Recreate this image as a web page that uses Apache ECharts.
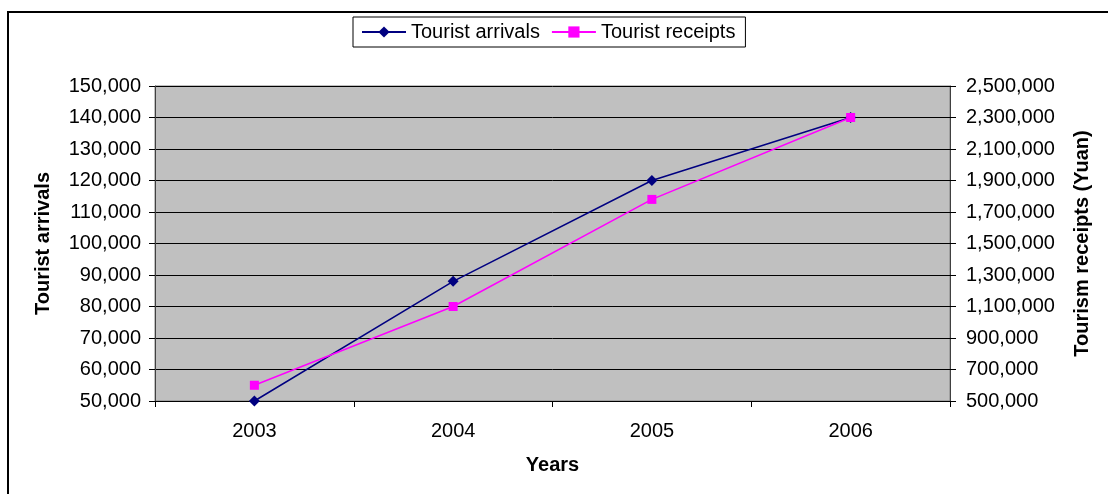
<!DOCTYPE html>
<html>
<head>
<meta charset="utf-8">
<script src="https://cdn.jsdelivr.net/npm/echarts@6/dist/echarts.min.js"></script>
<style>
html,body{margin:0;padding:0;background:#fff;}
#chart{width:1108px;height:494px;}
</style>
</head>
<body>
<div id="chart"></div>
<script>
const years = ['2003', '2004', '2005', '2006'];
const touristArrivals = [50000, 88000, 120000, 140000];
const touristReceipts = [600000, 1100000, 1780000, 2300000];
const leftAxisRange = [50000, 150000, 10000];
const rightAxisRange = [500000, 2500000];

const font = '"Liberation Sans", Arial, sans-serif';
const fmt = v => v.toLocaleString('en-US');

const chart = echarts.init(document.getElementById('chart'), null, {renderer: 'canvas'});
chart.setOption({
  animation: false,
  backgroundColor: '#ffffff',
  textStyle: {fontFamily: font},
  graphic: [{
    type: 'polyline',
    shape: {points: [[8, 500], [8, 12], [1110, 12]]},
    style: {stroke: '#000', lineWidth: 2, fill: null}
  }],
  legend: {
    left: 353, top: 17,
    padding: [5, 10, 5, 8],
    itemGap: 11,
    itemWidth: 44, itemHeight: 14,
    borderColor: '#000', borderWidth: 1,
    textStyle: {fontSize: 20, color: '#000', fontFamily: font},
    data: ['Tourist arrivals', 'Tourist receipts']
  },
  grid: {
    left: 155, right: 158, top: 86, bottom: 93,
    show: true, backgroundColor: '#C0C0C0', borderColor: '#808080', borderWidth: 1
  },
  xAxis: {
    type: 'category',
    data: years,
    boundaryGap: true,
    name: 'Years',
    nameLocation: 'middle',
    nameGap: 54,
    nameTextStyle: {fontSize: 20, fontWeight: 'bold', color: '#000', fontFamily: font},
    axisLine: {lineStyle: {color: '#000', width: 1}},
    axisTick: {show: true, length: 6, lineStyle: {color: '#000'}},
    axisLabel: {fontSize: 20, color: '#000', margin: 20, fontFamily: font},
    splitLine: {show: false}
  },
  yAxis: [{
    type: 'value',
    min: leftAxisRange[0], max: leftAxisRange[1], interval: leftAxisRange[2],
    name: 'Tourist arrivals',
    nameLocation: 'middle',
    nameRotate: 90,
    nameGap: 102,
    nameTextStyle: {fontSize: 20, fontWeight: 'bold', color: '#000', fontFamily: font},
    axisLine: {show: true, lineStyle: {color: '#404040'}},
    axisTick: {show: true, length: 6, lineStyle: {color: '#000'}},
    axisLabel: {fontSize: 20, color: '#000', margin: 14, formatter: fmt, fontFamily: font},
    splitLine: {show: true, lineStyle: {color: '#000', width: 1}}
  }, {
    type: 'value',
    position: 'right',
    min: rightAxisRange[0], max: rightAxisRange[1],
    alignTicks: true,
    name: 'Tourism receipts (Yuan)',
    nameLocation: 'middle',
    nameRotate: 90,
    nameGap: 122,
    nameTextStyle: {fontSize: 20, fontWeight: 'bold', color: '#000', fontFamily: font},
    axisLine: {show: true, lineStyle: {color: '#404040'}},
    axisTick: {show: true, length: 6, lineStyle: {color: '#000'}},
    axisLabel: {fontSize: 20, color: '#000', margin: 16, formatter: fmt, fontFamily: font},
    splitLine: {show: false}
  }],
  series: [{
    name: 'Tourist arrivals',
    type: 'line',
    yAxisIndex: 0,
    data: touristArrivals,
    symbol: 'diamond',
    symbolSize: 11,
    color: '#000080',
    lineStyle: {color: '#000080', width: 1.5},
    itemStyle: {color: '#000080'}
  }, {
    name: 'Tourist receipts',
    type: 'line',
    yAxisIndex: 1,
    data: touristReceipts,
    symbol: 'rect',
    symbolSize: 9,
    color: '#FF00FF',
    lineStyle: {color: '#FF00FF', width: 1.5},
    itemStyle: {color: '#FF00FF'}
  }]
});
</script>
</body>
</html>
